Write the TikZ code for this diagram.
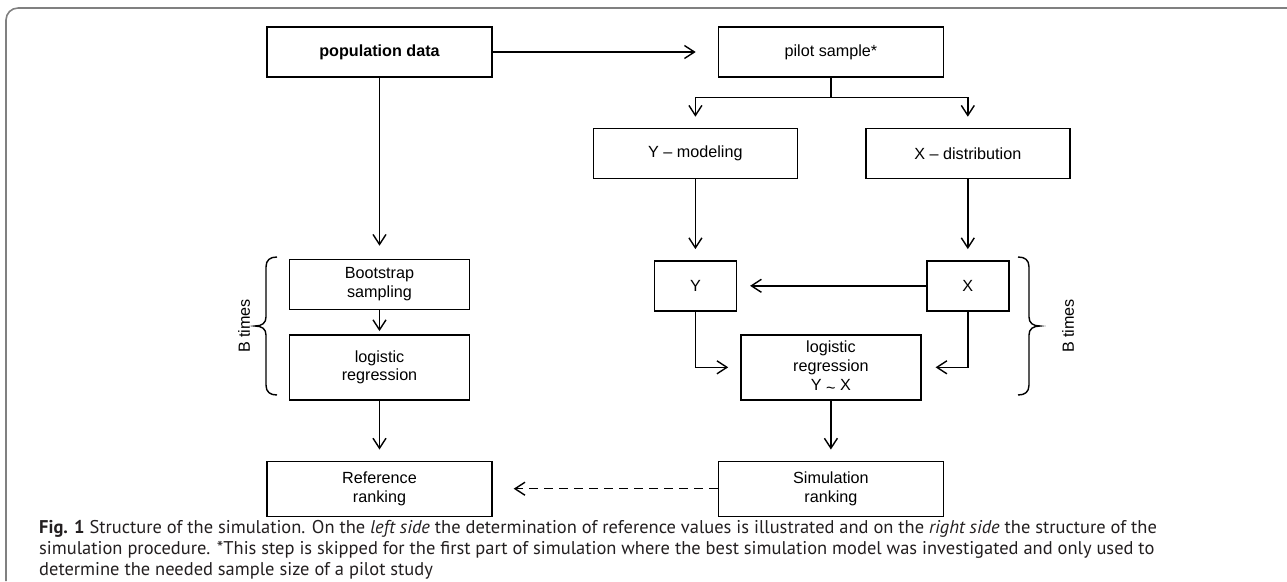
\documentclass[tikz,border=0pt]{standalone}
\usepackage{fontspec}
\setmainfont{Liberation Sans}
\newfontfamily\capfont{PT Sans}
\usepackage{tikz}
\usetikzlibrary{arrows.meta, positioning}
\definecolor{framegray}{HTML}{808080}
\definecolor{captext}{HTML}{231F20}

\begin{document}
\begin{tikzpicture}[
   >={Straight Barb[length=2mm, width=2.6mm]}, node distance = 10mm and 45mm,
   font=\fontsize{9.2}{10.8}\selectfont,
   box/.style = {rectangle, draw=black, line width=0.8pt, minimum width=45mm,
                 minimum height=10mm, inner sep=1pt, align=center},
   narrow/.style = {box, minimum width=36mm},
   arr/.style = {->, line width=0.8pt, shorten >=2.2mm},
   brc/.style = {line width=0.8pt}]
  \useasboundingbox (0,0) rectangle (25.74,-11.62);
  \draw[framegray, line width=0.9pt, rounded corners=2.4mm] (0.12,-11.62) -- (0.12,-0.16) -- (25.74,-0.16);

  \node[box] (pop) at (7.59,-1.04) {\textbf{population data}};
  \node[box, right=of pop] (pilot) {pilot sample*};
  \node[box, minimum width=40.8mm, below=of pilot, xshift=-27.1mm] (ymod) {Y -- modeling};
  \node[box, minimum width=40.8mm, right=13.4mm of ymod] (xdist) {X -- distribution};
  \node[box, minimum width=16.4mm, below=16.2mm of ymod] (ybox) {Y};
  \node[box, minimum width=16.4mm, below=16.2mm of xdist] (xbox) {X};
  \node[narrow, below=36.2mm of pop] (boot) {Bootstrap\\sampling};
  \node[narrow, minimum height=13mm, below=4.8mm of boot] (logl) {logistic\\regression};
  \node[narrow, minimum height=13mm, right=54mm of logl] (fit) {logistic\\regression\\Y {\raisebox{-0.3ex}{\textasciitilde}} X};
  \node[box, minimum height=11mm, below=12mm of logl] (ref) {Reference\\ranking};
  \node[box, minimum height=11mm, below=12mm of fit] (sim) {Simulation\\ranking};

  \node[rotate=90] (btl) at (4.88,-6.52) {B times};
  \node[rotate=90] (btr) at (21.36,-6.52) {B times};
  \draw[brc] (5.54,-5.14) .. controls (5.40,-5.14) and (5.32,-5.20) .. (5.32,-5.34) -- (5.32,-6.34)
       .. controls (5.32,-6.46) and (5.24,-6.52) .. (5.10,-6.52)
       .. controls (5.24,-6.52) and (5.32,-6.58) .. (5.32,-6.70) -- (5.32,-7.70)
       .. controls (5.32,-7.84) and (5.40,-7.90) .. (5.54,-7.90);
  \draw[brc] (20.36,-5.14) .. controls (20.50,-5.14) and (20.58,-5.20) .. (20.58,-5.34) -- (20.58,-6.34)
       .. controls (20.58,-6.46) and (20.66,-6.52) .. (20.80,-6.52)
       .. controls (20.66,-6.52) and (20.58,-6.58) .. (20.58,-6.70) -- (20.58,-7.70)
       .. controls (20.58,-7.84) and (20.50,-7.90) .. (20.36,-7.90);

  \draw[arr, shorten >=4.4mm] (pop) -- (pilot);
  \draw[line width=0.8pt] (pilot.south) -- ++(0,-4mm) coordinate (split);
  \draw[arr] (split) -| (ymod.north);
  \draw[arr] (split) -| (xdist.north);
  \draw[arr] (ymod) -- (ybox);
  \draw[arr] (xdist) -- (xbox);
  \draw[arr, shorten >=2.6mm] (xbox) -- (ybox);
  \draw[arr, shorten >=2.4mm] (ybox.south) |- (fit.west);
  \draw[arr, shorten >=2.8mm] (xbox.south) |- (fit.east);
  \draw[arr] (fit) -- (sim);
  \draw[arr, shorten >=2.6mm] (pop) -- (boot);
  \draw[arr, shorten >=0.6mm] (boot) -- (logl);
  \draw[arr] (logl) -- (ref);
  \draw[arr, dash pattern=on 1.8mm off 1.2mm, shorten >=4.2mm] (sim) -- (ref);

  \node[anchor=base west, align=left, text=captext, font=\capfont\fontsize{10.5}{11.8}\selectfont] (cap) at (0.66,-11.50)
     {\textbf{Fig. 1} Structure of the simulation. On the \textit{left side} the determination of reference values is illustrated and on the \textit{right side} the structure of the\\
      simulation procedure. *This step is skipped for the first part of simulation where the best simulation model was investigated and only used to\\
      determine the needed sample size of a pilot study};
\end{tikzpicture}
\end{document}
